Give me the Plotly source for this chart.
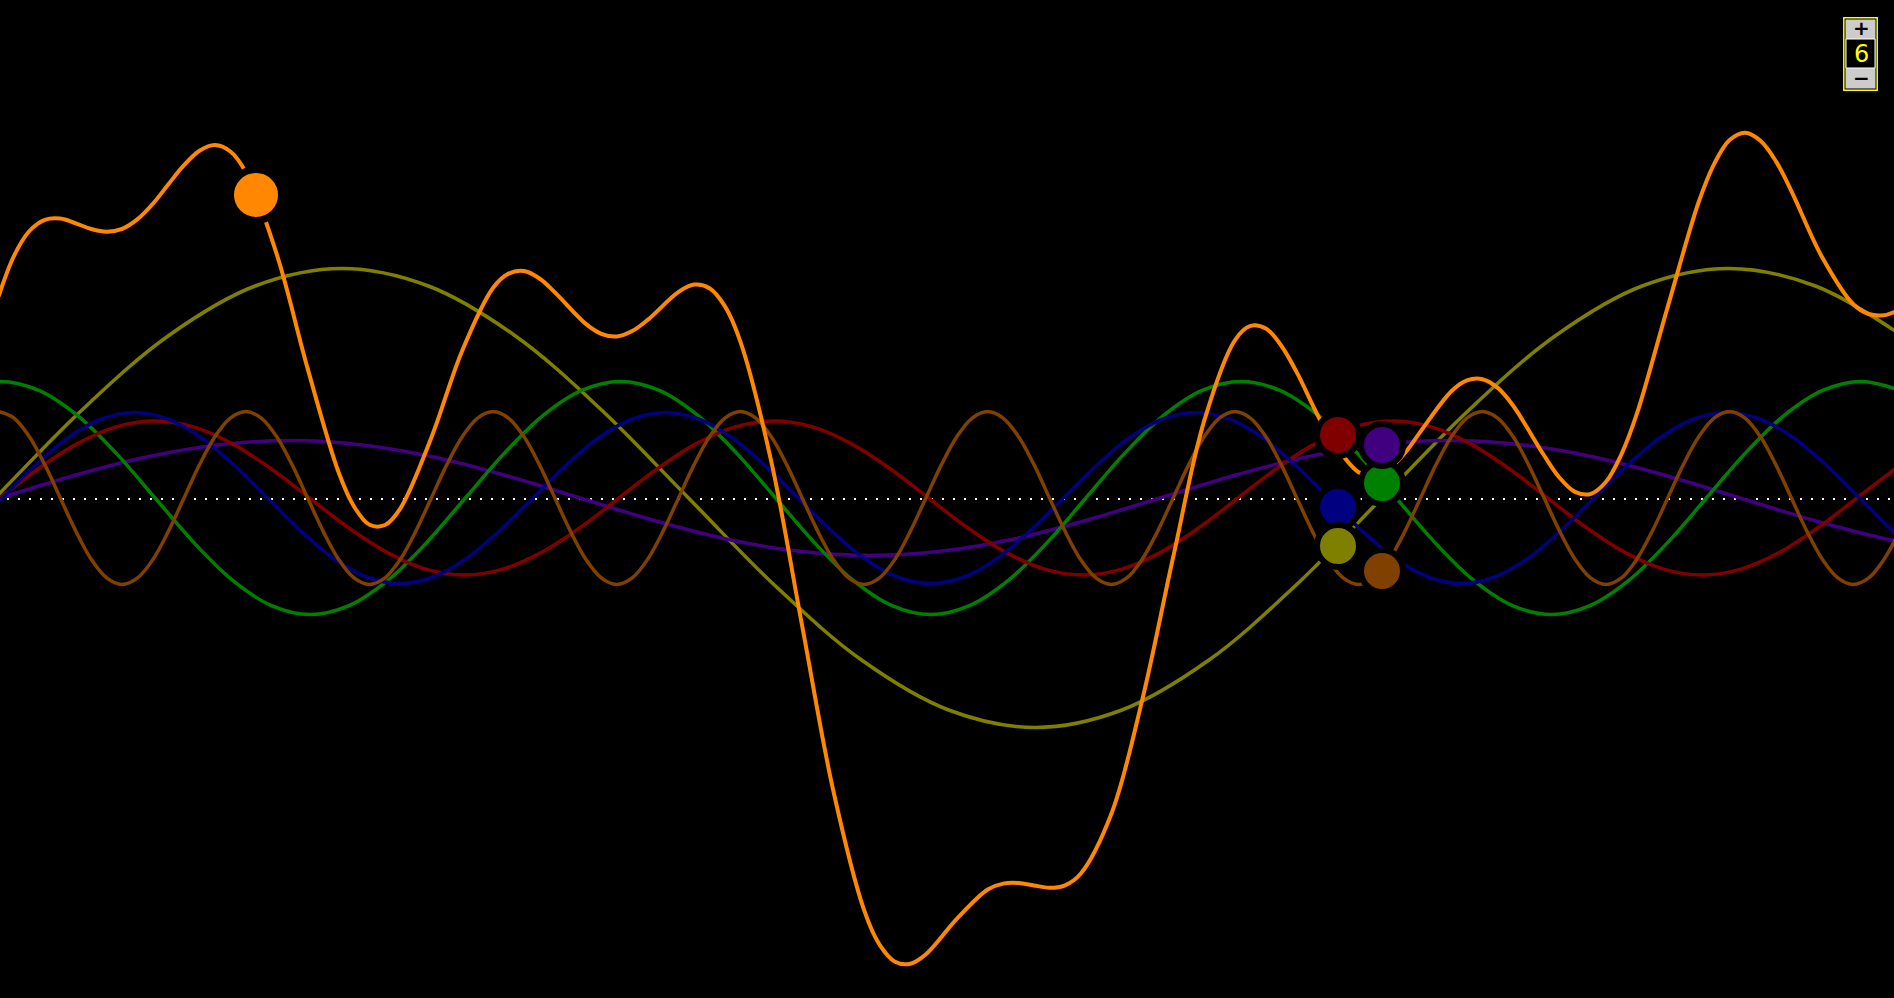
import plotly.graph_objects as go

# ---------------- data (x along the wave, values = height above the dotted baseline) -------------
# orange: the sum of the six components
sum_x = [-1.5, 14.0, 29.4, 44.9, 60.3, 75.8, 91.2, 106.7, 122.2, 137.6, 153.1, 168.6, 184.0,
         199.5, 214.9, 230.4, 245.8, 276.7, 307.6, 338.5, 354.0, 369.5, 385.0, 400.4, 431.3,
         462.2, 493.1, 508.6, 524.0, 539.5, 554.9, 585.8, 601.3, 616.8, 632.2, 647.7, 678.6,
         694.1, 709.5, 725.0, 740.4, 771.3, 802.2, 833.2, 864.1, 879.5, 895.0, 910.4, 925.9,
         956.8, 987.7, 1003.1, 1018.6, 1034.0, 1049.5, 1065.0, 1080.4, 1111.4, 1142.3, 1173.2,
         1204.1, 1235.0, 1250.5, 1265.9, 1281.3, 1296.8, 1327.7, 1358.6, 1374.1, 1389.6,
         1405.1, 1420.5, 1451.4, 1466.9, 1482.3, 1497.8, 1513.2, 1544.1, 1559.6, 1575.1,
         1590.5, 1606.0, 1621.4, 1636.9, 1667.8, 1698.7, 1714.2, 1729.6, 1745.1, 1760.5,
         1776.0, 1791.4, 1822.3, 1853.3, 1868.7, 1884.2, 1899.6, 1915.1]
sum_vals = [201.4, 242.2, 267.0, 278.2, 279.4, 274.7, 269.0, 266.3, 269.2, 278.9, 294.5, 314.0,
            332.8, 347.3, 353.0, 346.5, 325.8, 243.8, 129.6, 26.0, -8.5, -26.8, -27.0, -10.3,
            60.3, 147.3, 210.2, 224.4, 226.9, 219.5, 205.6, 174.1, 164.2, 161.5, 166.9, 178.1,
            206.1, 213.4, 209.8, 191.6, 156.3, 36.4, -128.1, -292.3, -412.1, -446.6, -463.7,
            -465.7, -456.2, -420.8, -391.5, -385.6, -385.0, -387.5, -389.8, -387.3, -376.0,
            -315.7, -201.6, -59.0, 76.8, 157.9, 172.1, 169.4, 152.3, 125.6, 64.6, 25.8, 22.2,
            29.4, 45.2, 66.4, 106.7, 117.6, 118.8, 110.1, 92.2, 42.5, 20.2, 6.1, 4.0, 16.2,
            43.7, 84.3, 191.4, 296.0, 334.2, 357.9, 365.3, 357.2, 336.6, 306.9, 240.4, 193.7,
            184.0, 182.8, 188.3, 196.0]

brown_x = [-1.5, 14.0, 29.4, 44.9, 60.3, 75.8, 91.2, 106.7, 122.1, 137.6, 153.1, 168.5, 184.0,
           199.4, 214.9, 230.3, 245.8, 261.3, 276.7, 292.2, 307.6, 323.1, 338.5, 354.0, 369.4,
           384.9, 400.4, 415.8, 431.3, 446.7, 462.2, 477.6, 493.1, 508.5, 524.0, 539.5, 554.9,
           570.4, 585.8, 601.3, 616.7, 632.2, 647.7, 663.1, 678.6, 694.0, 709.5, 724.9, 740.4,
           755.8, 771.3, 786.8, 802.2, 817.7, 833.1, 848.6, 864.0, 879.5, 895.0, 910.4, 925.9,
           941.3, 956.8, 972.2, 987.7, 1003.1, 1018.6, 1034.1, 1049.5, 1065.0, 1080.4, 1095.9,
           1111.3, 1126.8, 1142.2, 1157.7, 1173.2, 1188.6, 1204.1, 1219.5, 1235.0, 1250.4,
           1265.9, 1281.3, 1296.8, 1312.3, 1327.7, 1343.2, 1358.6, 1374.1, 1389.5, 1405.0,
           1420.5, 1435.9, 1451.4, 1466.8, 1482.3, 1497.7, 1513.2, 1528.6, 1544.1, 1559.6,
           1575.0, 1590.5, 1605.9, 1621.4, 1636.8, 1652.3, 1667.7, 1683.2, 1698.7, 1714.1,
           1729.6, 1745.0, 1760.5, 1775.9, 1791.4, 1806.8, 1822.3, 1837.8, 1853.2, 1868.7,
           1884.1, 1899.6, 1915.0]
brown_vals = [86.5, 79.9, 61.2, 33.1, 0, -33.1, -61.2, -79.9, -86.5, -79.9, -61.2, -33.1, 0, 33.1, 61.2, 79.9,
              86.5, 79.9, 61.2, 33.1, 0, -33.1, -61.2, -79.9, -86.5, -79.9, -61.2, -33.1, 0, 33.1, 61.2, 79.9,
              86.5, 79.9, 61.2, 33.1, 0, -33.1, -61.2, -79.9, -86.5, -79.9, -61.2, -33.1, 0, 33.1, 61.2, 79.9,
              86.5, 79.9, 61.2, 33.1, 0, -33.1, -61.2, -79.9, -86.5, -79.9, -61.2, -33.1, 0, 33.1, 61.2, 79.9,
              86.5, 79.9, 61.2, 33.1, 0, -33.1, -61.2, -79.9, -86.5, -79.9, -61.2, -33.1, 0, 33.1, 61.2, 79.9,
              86.5, 79.9, 61.2, 33.1, 0, -33.1, -61.2, -79.9, -86.5, -79.9, -61.2, -33.1, 0, 33.1, 61.2, 79.9,
              86.5, 79.9, 61.2, 33.1, 0, -33.1, -61.2, -79.9, -86.5, -79.9, -61.2, -33.1, 0, 33.1, 61.2, 79.9,
              86.5, 79.9, 61.2, 33.1, 0, -33.1, -61.2, -79.9, -86.5, -79.9, -61.2, -33.1, 0]

green_x = [-38.8, 0, 38.8, 77.6, 116.3, 155.1, 193.9, 232.7, 271.5, 310.3, 349.0, 387.8, 426.6,
           465.4, 504.2, 542.9, 581.7, 620.5, 659.3, 698.1, 736.8, 775.6, 814.4, 853.2, 892.0,
           930.7, 969.5, 1008.3, 1047.1, 1085.9, 1124.6, 1163.4, 1202.2, 1241.0, 1279.8,
           1318.6, 1357.3, 1396.1, 1434.9, 1473.7, 1512.5, 1551.2, 1590.0, 1628.8, 1667.6,
           1706.4, 1745.1, 1783.9, 1822.7, 1861.5, 1900.3]
green_vals = [107.6,
              116.5, 107.6, 82.4, 44.6, 0, -44.6, -82.4, -107.6, -116.5, -107.6, -82.4, -44.6, 0, 44.6, 82.4, 107.6,
              116.5, 107.6, 82.4, 44.6, 0, -44.6, -82.4, -107.6, -116.5, -107.6, -82.4, -44.6, 0, 44.6, 82.4, 107.6,
              116.5, 107.6, 82.4, 44.6, 0, -44.6, -82.4, -107.6, -116.5, -107.6, -82.4, -44.6, 0, 44.6, 82.4, 107.6,
              116.5, 107.6]

red_x = [-38.7, 0, 38.7, 77.4, 116.1, 154.8, 193.4, 232.1, 270.8, 309.5, 348.2, 386.9, 425.6,
         464.3, 502.9, 541.6, 580.3, 619.0, 657.7, 696.4, 735.1, 773.8, 812.4, 851.1, 889.8,
         928.5, 967.2, 1005.9, 1044.6, 1083.3, 1121.9, 1160.6, 1199.3, 1238.0, 1276.7, 1315.4,
         1354.1, 1392.8, 1431.4, 1470.1, 1508.8, 1547.5, 1586.2, 1624.9, 1663.6, 1702.3,
         1740.9, 1779.6, 1818.3, 1857.0, 1895.7]
red_vals = [-29.5,
            0, 29.5, 54.4, 71.1, 77, 71.1, 54.4, 29.5, 0, -29.5, -54.4, -71.1, -77, -71.1, -54.4, -29.5,
            0, 29.5, 54.4, 71.1, 77, 71.1, 54.4, 29.5, 0, -29.5, -54.4, -71.1, -77, -71.1, -54.4, -29.5,
            0, 29.5, 54.4, 71.1, 77, 71.1, 54.4, 29.5, 0, -29.5, -54.4, -71.1, -77, -71.1, -54.4, -29.5,
            0, 29.5]

blue_x = [-31.2, 2.0, 35.2, 68.3, 101.5, 134.7, 167.8, 201.0, 234.2, 267.4, 300.5, 333.7, 366.9,
          400.0, 433.2, 466.4, 499.5, 532.7, 565.9, 599.0, 632.2, 665.4, 698.5, 731.7, 764.9,
          798.1, 831.2, 864.4, 897.6, 930.7, 963.9, 997.1, 1030.2, 1063.4, 1096.6, 1129.7,
          1162.9, 1196.1, 1229.3, 1262.4, 1295.6, 1328.8, 1361.9, 1395.1, 1428.3, 1461.4,
          1494.6, 1527.8, 1560.9, 1594.1, 1627.3, 1660.5, 1693.6, 1726.8, 1760.0, 1793.1,
          1826.3, 1859.5, 1892.6, 1925.8]
blue_vals = [-32.7,
             0, 32.7, 60.5, 79.0, 85.5, 79.0, 60.5, 32.7, 0, -32.7, -60.5, -79.0, -85.5, -79.0, -60.5, -32.7,
             0, 32.7, 60.5, 79.0, 85.5, 79.0, 60.5, 32.7, 0, -32.7, -60.5, -79.0, -85.5, -79.0, -60.5, -32.7,
             0, 32.7, 60.5, 79.0, 85.5, 79.0, 60.5, 32.7, 0, -32.7, -60.5, -79.0, -85.5, -79.0, -60.5, -32.7,
             0, 32.7, 60.5, 79.0, 85.5, 79.0, 60.5, 32.7, 0, -32.7, -60.5]

purple_x = [-72.5, 0, 72.5, 145, 217.5, 290, 362.5, 435, 507.5, 580, 652.5, 725, 797.5, 870,
            942.5, 1015, 1087.5, 1160, 1232.5, 1305, 1377.5, 1450, 1522.5, 1595, 1667.5, 1740,
            1812.5, 1885, 1957.5]
purple_vals = [-22.0,
               0, 22.0, 40.7, 53.1, 57.5, 53.1, 40.7, 22.0, 0, -22.0, -40.7, -53.1, -57.5, -53.1, -40.7, -22.0,
               0, 22.0, 40.7, 53.1, 57.5, 53.1, 40.7, 22.0, 0, -22.0, -40.7, -53.1]

olive_x = [-91.7, -5, 81.7, 168.4, 255.1, 341.8, 428.4, 515.1, 601.8, 688.5, 775.2, 861.9, 948.6,
           1035.3, 1121.9, 1208.6, 1295.3, 1382.0, 1468.7, 1555.4, 1642.1, 1728.8, 1815.4, 1902.1]
olive_vals = [-87.8,
              0, 87.8, 162.3, 212.0, 229.5, 212.0, 162.3, 87.8, 0, -87.8, -162.3, -212.0, -229.5, -212.0, -162.3, -87.8,
              0, 87.8, 162.3, 212.0, 229.5, 212.0, 162.3]

# current-position markers
dot_names = ["red", "blue", "green", "olive", "purple", "brown"]
dot_x = [1338, 1338, 1382, 1338, 1382, 1382]
dot_vals = [63, -9, 15, -48, 53, -73]
sum_dot_x = [256]
sum_dot_val = [303]

counter_value = "6"

# ---------------- styles ----------------
COL = {
    "olive": "#808000", "green": "#008000", "blue": "#000080",
    "red": "#800000", "brown": "#804000", "purple": "#400080",
    "orange": "#ff8800",
}

W, H = 1894, 998
BASE = 498  # pixel row of the baseline


def py(p):
    """pixel row -> axis value"""
    return BASE - p


fig = go.Figure()

# dotted baseline
fig.add_trace(go.Scatter(x=[7, W], y=[-1, -1], mode="lines",
                         line=dict(color="white", width=2, dash="2px,9px"),
                         hoverinfo="skip"))

series = [
    ("olive", olive_x, olive_vals),
    ("purple", purple_x, purple_vals),
    ("green", green_x, green_vals),
    ("red", red_x, red_vals),
    ("blue", blue_x, blue_vals),
    ("brown", brown_x, brown_vals),
]
for name, xs, ys in series:
    fig.add_trace(go.Scatter(x=xs, y=ys, mode="lines",
                             line=dict(color=COL[name], width=3.5, shape="spline", smoothing=1),
                             hoverinfo="skip"))

fig.add_trace(go.Scatter(x=sum_x, y=sum_vals, mode="lines",
                         line=dict(color=COL["orange"], width=4, shape="spline", smoothing=1),
                         hoverinfo="skip"))

fig.add_trace(go.Scatter(x=dot_x, y=dot_vals, mode="markers",
                         marker=dict(size=42, color=[COL[n] for n in dot_names],
                                     line=dict(color="black", width=6)),
                         hoverinfo="skip"))
fig.add_trace(go.Scatter(x=sum_dot_x, y=sum_dot_val, mode="markers",
                         marker=dict(size=51, color=COL["orange"],
                                     line=dict(color="black", width=7)),
                         hoverinfo="skip"))

# counter widget (top right)
shapes = [
    dict(type="rect", x0=1843.8, x1=1877.2, y0=py(17.8), y1=py(90.2),
         line=dict(color="#ffff00", width=1.5), fillcolor="black", layer="above"),
    dict(type="rect", x0=1845.5, x1=1875.5, y0=py(19.5), y1=py(88.5),
         line=dict(width=0), fillcolor="#cccccc", layer="above"),
    dict(type="rect", x0=1846, x1=1875, y0=py(39), y1=py(68),
         line=dict(color="white", width=1), fillcolor="black", layer="above"),
]
annotations = [
    dict(x=1861, y=py(28), text="<b>+</b>", showarrow=False, xanchor="center", yanchor="middle",
         font=dict(color="black", size=20, family="DejaVu Sans")),
    dict(x=1861, y=py(54), text=counter_value, showarrow=False, xanchor="center",
         yanchor="middle", font=dict(color="#ffff00", size=24, family="DejaVu Sans")),
    dict(x=1861, y=py(78), text="<b>−</b>", showarrow=False, xanchor="center",
         yanchor="middle", font=dict(color="black", size=20, family="DejaVu Sans")),
]

fig.update_layout(
    width=W, height=H, margin=dict(l=0, r=0, t=0, b=0, pad=0),
    paper_bgcolor="black", plot_bgcolor="black", showlegend=False, hovermode=False,
    xaxis=dict(range=[0, W], visible=False, fixedrange=True),
    yaxis=dict(range=[BASE - H, BASE], visible=False, fixedrange=True),
    shapes=shapes, annotations=annotations,
)

fig.write_html("out.html", config={"displayModeBar": False, "staticPlot": True})
